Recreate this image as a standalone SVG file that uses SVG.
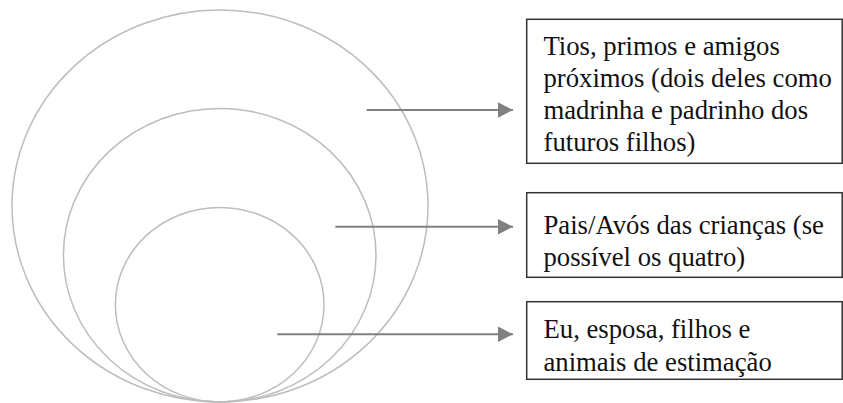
<svg xmlns="http://www.w3.org/2000/svg" width="843" height="403" viewBox="0 0 843 403">
<style>
.ring{fill:none;stroke:#bdbdbd;stroke-width:1.5}
.box{fill:#fff;stroke:#333;stroke-width:1.5}
.lbl{font-family:"Liberation Serif","Times New Roman",serif;font-size:26.7px;fill:#111}
.arr{stroke:#808080;stroke-width:2;fill:none}
</style>
<defs>
<marker id="ah" markerUnits="userSpaceOnUse" markerWidth="16" markerHeight="16" refX="15" refY="8" orient="auto">
<path d="M0,0.3 L15,8 L0,15.7 Z" fill="#808080"/>
</marker>
</defs>
<rect width="843" height="403" fill="#fff"/>
<g id="circle-outer"><ellipse class="ring" cx="220" cy="206" rx="208" ry="196"/></g>
<g id="circle-middle"><ellipse class="ring" cx="219.7" cy="255.2" rx="156.3" ry="146.8"/></g>
<g id="circle-inner"><ellipse class="ring" cx="219.7" cy="304.7" rx="104.3" ry="97.3"/></g>
<g id="connectors">
<line class="arr" x1="366.7" y1="110" x2="513" y2="110" marker-end="url(#ah)"/>
<line class="arr" x1="335.3" y1="226.7" x2="513" y2="226.7" marker-end="url(#ah)"/>
<line class="arr" x1="277.3" y1="334.3" x2="513" y2="334.3" marker-end="url(#ah)"/>
</g>
<g id="box-outer">
<rect class="box" x="526.7" y="19.3" width="315.5" height="144"/>
<text class="lbl" x="543.5" y="54.5">Tios, primos e amigos</text>
<text class="lbl" x="543.5" y="86.8">próximos (dois deles como</text>
<text class="lbl" x="543.5" y="119">madrinha e padrinho dos</text>
<text class="lbl" x="543.5" y="151.3">futuros filhos)</text>
</g>
<g id="box-middle">
<rect class="box" x="526.7" y="192.7" width="315.5" height="84.6"/>
<text class="lbl" x="543.5" y="234.3">Pais/Avós das crianças (se</text>
<text class="lbl" x="543.5" y="266.3">possível os quatro)</text>
</g>
<g id="box-inner">
<rect class="box" x="526.7" y="301.7" width="315.5" height="77.6"/>
<text class="lbl" x="543.5" y="338.3">Eu, esposa, filhos e</text>
<text class="lbl" x="543.5" y="370.7">animais de estimação</text>
</g>
</svg>
